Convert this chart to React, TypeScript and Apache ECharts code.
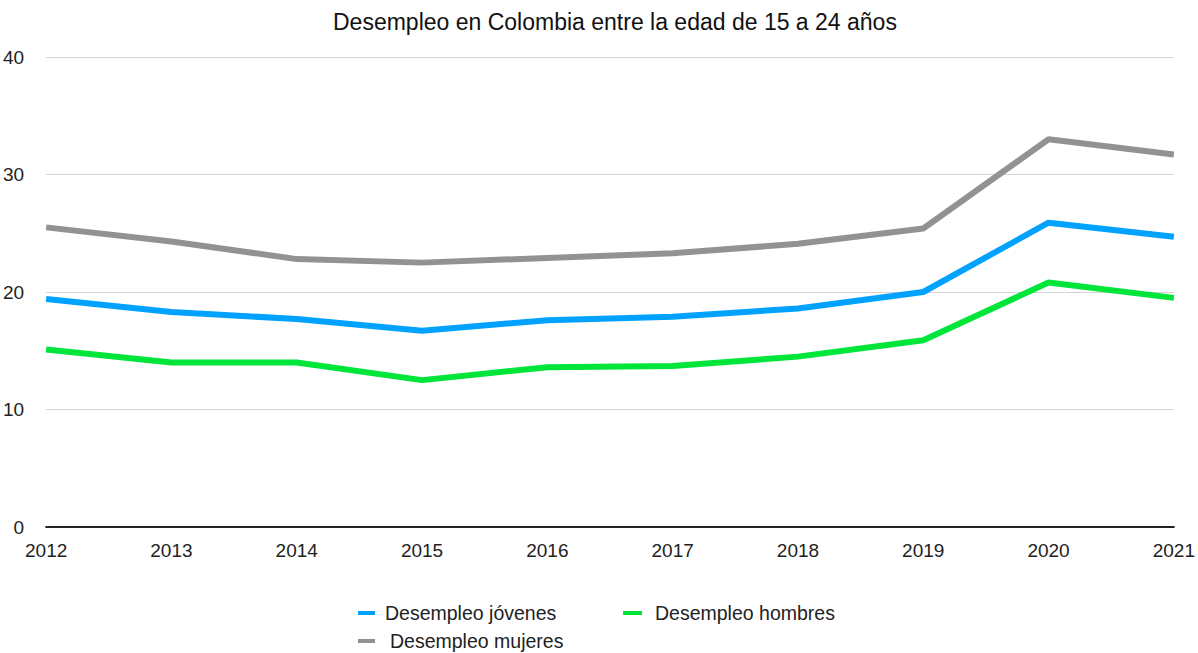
import React, { useEffect, useRef } from "react";
import * as echarts from "echarts";

const years = ["2012", "2013", "2014", "2015", "2016", "2017", "2018", "2019", "2020", "2021"];
const jovenes = [19.4, 18.3, 17.7, 16.7, 17.6, 17.9, 18.6, 20.0, 25.9, 24.7];
const hombres = [15.1, 14.0, 14.0, 12.5, 13.6, 13.7, 14.5, 15.9, 20.8, 19.5];
const mujeres = [25.5, 24.3, 22.8, 22.5, 22.9, 23.3, 24.1, 25.4, 33.0, 31.7];

const FONT = "'Liberation Sans', Arial, Helvetica, sans-serif";

export default function App() {
  const ref = useRef<HTMLDivElement>(null);
  useEffect(() => {
    const chart = echarts.init(ref.current!, null, { renderer: "svg" });
    const legendBase = {
      orient: "horizontal",
      icon: "rect",
      padding: 0,
      itemWidth: 17,
      itemHeight: 4,
      itemGap: 10,
    };
    const lt = (pad: number) => ({
      fontFamily: FONT,
      fontSize: 19.5,
      color: "#222",
      padding: [0, 0, 0, pad],
    });
    chart.setOption({
      animation: false,
      title: {
        text: "Desempleo en Colombia entre la edad de 15 a 24 años",
        left: 328,
        top: 5,
        textStyle: { fontFamily: FONT, fontSize: 23, fontWeight: "normal", color: "#111" },
      },
      legend: [
        { ...legendBase, data: ["Desempleo jóvenes"], left: 358, top: 603, textStyle: lt(5) },
        { ...legendBase, itemWidth: 19, data: ["Desempleo hombres"], left: 623, top: 603, textStyle: lt(8) },
        { ...legendBase, data: ["Desempleo mujeres"], left: 358, top: 631, textStyle: lt(10) },
      ],
      grid: { left: 45, right: 19, top: 57, bottom: 126, containLabel: false },
      xAxis: {
        type: "category",
        data: years,
        boundaryGap: false,
        axisLine: { lineStyle: { color: "#222", width: 2 } },
        axisTick: { show: false },
        axisLabel: { fontFamily: FONT, fontSize: 19, color: "#222", margin: 14, showMaxLabel: true },
      },
      yAxis: {
        type: "value",
        min: 0,
        max: 40,
        interval: 10,
        axisLine: { show: false },
        axisTick: { show: false },
        splitLine: { lineStyle: { color: "#d4d4d4", width: 1 } },
        axisLabel: { fontFamily: FONT, fontSize: 19, color: "#222", margin: 22 },
      },
      series: [
        {
          name: "Desempleo jóvenes",
          type: "line",
          data: jovenes,
          showSymbol: false,
          lineStyle: { color: "#00a2ff", width: 6 },
          itemStyle: { color: "#00a2ff" },
        },
        {
          name: "Desempleo hombres",
          type: "line",
          data: hombres,
          showSymbol: false,
          lineStyle: { color: "#00e53a", width: 6 },
          itemStyle: { color: "#00e53a" },
        },
        {
          name: "Desempleo mujeres",
          type: "line",
          data: mujeres,
          showSymbol: false,
          lineStyle: { color: "#929292", width: 6 },
          itemStyle: { color: "#929292" },
        },
      ],
    });
    return () => chart.dispose();
  }, []);
  return <div ref={ref} style={{ width: 1198, height: 653, position: "absolute", left: 0, top: 0 }} />;
}
